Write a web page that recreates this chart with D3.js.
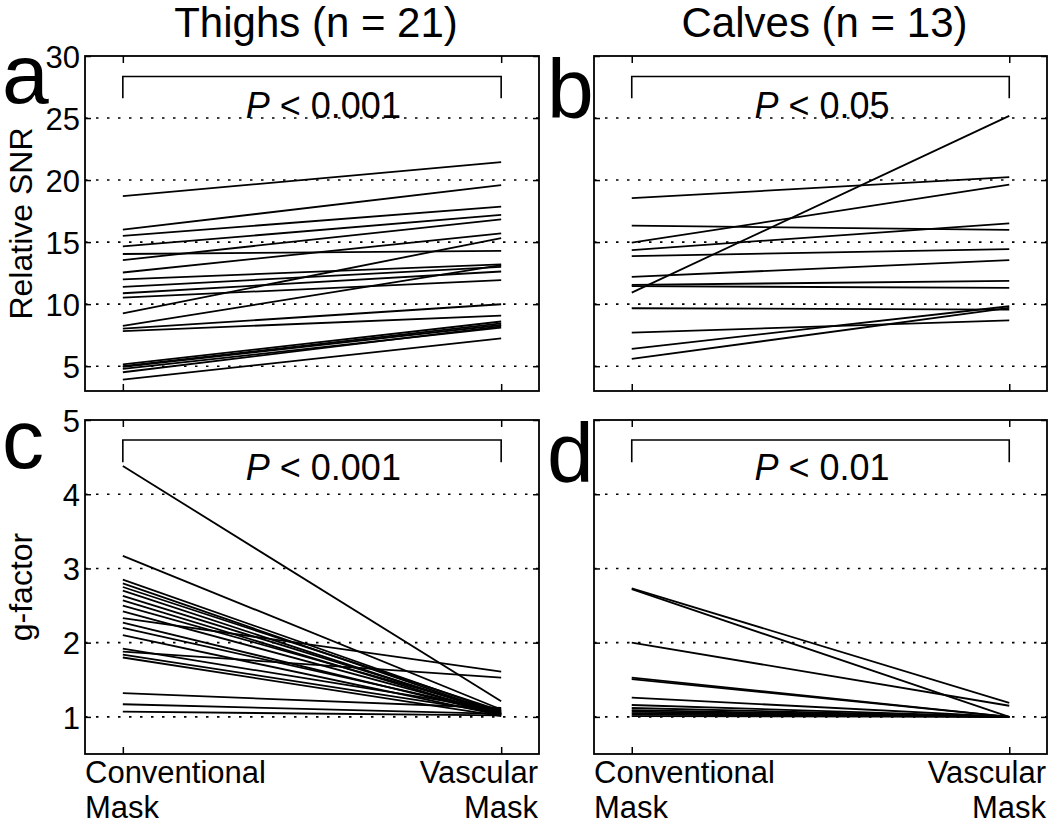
<!DOCTYPE html>
<html>
<head>
<meta charset="utf-8">
<script src="https://cdn.jsdelivr.net/npm/d3@7"></script>
<style>
  html, body { margin: 0; padding: 0; background: #fff; }
  svg { display: block; font-family: "Liberation Sans", Arial, Helvetica, sans-serif; }
</style>
</head>
<body>
<svg id="chart" width="1050" height="825"></svg>
<script>
// ---- Data ----
const xCategories = ["Conventional", "Vascular"];
const xLabelLines = [["Conventional", "Mask"], ["Vascular", "Mask"]];
const columnTitles = ["Thighs (n = 21)", "Calves (n = 13)"];
const panelLetters = ["a", "b", "c", "d"];
const pValues = ["0.001", "0.05", "0.001", "0.01"];

const snrTicks = [5, 10, 15, 20, 25, 30];
const gTicks = [1, 2, 3, 4, 5];

const thighSnrConv = [18.7, 16.0, 15.5, 14.65, 14.04, 13.55, 12.55, 12.0, 11.4, 10.88, 10.53, 9.26, 8.24, 8.02, 7.83, 5.14, 5.0, 4.95, 4.78, 4.51, 3.92];
const thighSnrVasc = [21.45, 19.59, 17.86, 17.19, 14.30, 16.84, 15.71, 13.2, 13.0, 12.63, 11.93, 15.33, 13.15, 9.99, 9.07, 8.6, 8.45, 8.32, 8.1, 8.2, 7.24];

const calfSnrConv = [18.54, 16.33, 14.95, 14.36, 13.87, 12.2, 11.55, 11.45, 10.93, 9.67, 7.7, 6.4, 5.59];
const calfSnrVasc = [20.23, 15.98, 19.64, 16.51, 14.44, 13.55, 11.88, 11.31, 25.17, 9.56, 8.70, 9.83, 9.7];

const thighGConv = [4.38, 3.17, 2.85, 2.80, 2.75, 2.70, 2.63, 2.57, 2.50, 2.42, 2.33, 2.27, 2.20, 2.10, 1.92, 1.88, 1.84, 1.80, 1.32, 1.17, 1.07];
const thighGVasc = [1.21, 1.10, 1.06, 1.04, 1.08, 1.03, 1.05, 1.02, 1.07, 1.04, 1.61, 1.03, 1.06, 1.02, 1.09, 1.53, 1.05, 1.01, 1.12, 1.04, 1.02];

const calfGConv = [2.73, 2.72, 2.0, 1.53, 1.51, 1.26, 1.16, 1.12, 1.09, 1.07, 1.05, 1.03, 1.01];
const calfGVasc = [1.19, 1.0, 1.15, 1.0, 1.0, 1.0, 1.0, 1.0, 1.0, 1.0, 1.0, 1.0, 1.0];

// ---- Layout ----
const svg = d3.select("#chart");
const FONT = "'Liberation Sans', Arial, Helvetica, sans-serif";

const colX = [[85, 539], [594, 1047]];
const rowY = [[56, 391], [420, 754]];

const panels = [
  { col: 0, row: 0, conv: thighSnrConv, vasc: thighSnrVasc, domain: [3, 30], ticks: snrTicks, bracket: [28.35, 26.6], showY: true, yLabel: "Relative SNR" },
  { col: 1, row: 0, conv: calfSnrConv, vasc: calfSnrVasc, domain: [3, 30], ticks: snrTicks, bracket: [28.35, 26.6], showY: false },
  { col: 0, row: 1, conv: thighGConv, vasc: thighGVasc, domain: [0.5, 5], ticks: gTicks, bracket: [4.73, 4.43], showY: true, yLabel: "g-factor" },
  { col: 1, row: 1, conv: calfGConv, vasc: calfGVasc, domain: [0.5, 5], ticks: gTicks, bracket: [4.73, 4.43], showY: false }
];

const letterPos = [[2, 103], [547, 118], [2, 468], [547, 482]];

panels.forEach((p, i) => {
  const x = d3.scalePoint().domain(xCategories).range([0, 1]);
  const xs = d3.scaleLinear().domain([0.9, 2.1]).range(colX[p.col]);
  const xPos = c => xs(1 + x(c));
  const y = d3.scaleLinear().domain(p.domain).range([rowY[p.row][1], rowY[p.row][0]]);
  const g = svg.append("g");
  const [x0, x1] = colX[p.col];
  const [yTop, yBot] = [rowY[p.row][0], rowY[p.row][1]];

  // dotted grid lines (excluding top)
  g.selectAll("line.grid").data(p.ticks.filter(t => t < p.domain[1]))
    .enter().append("line")
    .attr("x1", x0).attr("x2", x1)
    .attr("y1", d => y(d)).attr("y2", d => y(d))
    .attr("stroke", "#000").attr("stroke-width", 1.6)
    .attr("stroke-dasharray", "2.5,8.5");

  // y ticks (left & right, inward)
  const yAxisL = d3.axisLeft(y).tickValues(p.ticks).tickSize(-6).tickFormat(p.showY ? d3.format("d") : "");
  const gl = g.append("g").attr("transform", `translate(${x0},0)`).call(yAxisL);
  gl.select(".domain").remove();
  gl.selectAll(".tick line").attr("stroke", "#000").attr("stroke-width", 1.5);
  gl.selectAll(".tick text").attr("font-size", 31).attr("font-family", FONT).attr("fill", "#000").attr("x", -5).attr("dy", "0.36em");
  const yAxisR = d3.axisRight(y).tickValues(p.ticks).tickSize(-6).tickFormat("");
  const gr = g.append("g").attr("transform", `translate(${x1},0)`).call(yAxisR);
  gr.select(".domain").remove();
  gr.selectAll(".tick line").attr("stroke", "#000").attr("stroke-width", 1.5);

  // x ticks on bottom & top, inward
  const xAxisB = d3.axisBottom(xs).tickValues([1, 2]).tickSize(-7).tickFormat("");
  const gb = g.append("g").attr("transform", `translate(0,${yBot})`).call(xAxisB);
  gb.select(".domain").remove();
  gb.selectAll(".tick line").attr("stroke", "#000").attr("stroke-width", 1.5);
  const xAxisT = d3.axisTop(xs).tickValues([1, 2]).tickSize(-7).tickFormat("");
  const gt = g.append("g").attr("transform", `translate(0,${yTop})`).call(xAxisT);
  gt.select(".domain").remove();
  gt.selectAll(".tick line").attr("stroke", "#000").attr("stroke-width", 1.5);

  // data lines
  const pairs = p.conv.map((v, k) => [v, p.vasc[k]]);
  g.selectAll("line.data").data(pairs).enter().append("line")
    .attr("x1", xPos(xCategories[0])).attr("x2", xPos(xCategories[1]))
    .attr("y1", d => y(d[0])).attr("y2", d => y(d[1]))
    .attr("stroke", "#000").attr("stroke-width", 1.8);

  // bracket
  const bx0 = xPos(xCategories[0]), bx1 = xPos(xCategories[1]);
  g.append("path")
    .attr("d", `M${bx0},${y(p.bracket[1])}V${y(p.bracket[0])}H${bx1}V${y(p.bracket[1])}`)
    .attr("fill", "none").attr("stroke", "#000").attr("stroke-width", 1.6);

  // P text
  const pt = g.append("text")
    .attr("x", xs(1.325)).attr("y", p.row === 0 ? 118 : 480)
    .attr("font-size", 36).attr("font-family", FONT).attr("fill", "#000");
  pt.append("tspan").attr("font-style", "italic").text("P");
  pt.append("tspan").text(" < " + pValues[i]);

  // box
  g.append("rect")
    .attr("x", x0).attr("y", yTop).attr("width", x1 - x0).attr("height", yBot - yTop)
    .attr("fill", "none").attr("stroke", "#000").attr("stroke-width", 1.8);

  // y label
  if (p.yLabel) {
    g.append("text")
      .attr("transform", `translate(32,${(yTop + yBot) / 2}) rotate(-90)`)
      .attr("text-anchor", "middle")
      .attr("font-size", 32).attr("font-family", FONT).attr("fill", "#000")
      .text(p.yLabel);
  }

  // x labels (bottom row only), two separate lines
  if (p.row === 1) {
    xLabelLines.forEach((lines, k) => {
      lines.forEach((ln, j) => {
        g.append("text")
          .attr("font-size", 31).attr("font-family", FONT).attr("fill", "#000")
          .attr("text-anchor", k === 0 ? "start" : "end")
          .attr("x", k === 0 ? x0 : x1 - 1)
          .attr("y", 783 + j * 35)
          .text(ln);
      });
    });
  }

  // panel letter
  svg.append("text")
    .attr("x", letterPos[i][0]).attr("y", letterPos[i][1])
    .attr("font-size", 84).attr("font-family", FONT).attr("fill", "#000")
    .text(panelLetters[i]);

  // column title
  if (p.row === 0) {
    svg.append("text")
      .attr("x", (bx0 + bx1) / 2 + 4).attr("y", 37)
      .attr("text-anchor", "middle")
      .attr("font-size", 42).attr("font-family", FONT).attr("fill", "#000")
      .text(columnTitles[p.col]);
  }
});
</script>
</body>
</html>
